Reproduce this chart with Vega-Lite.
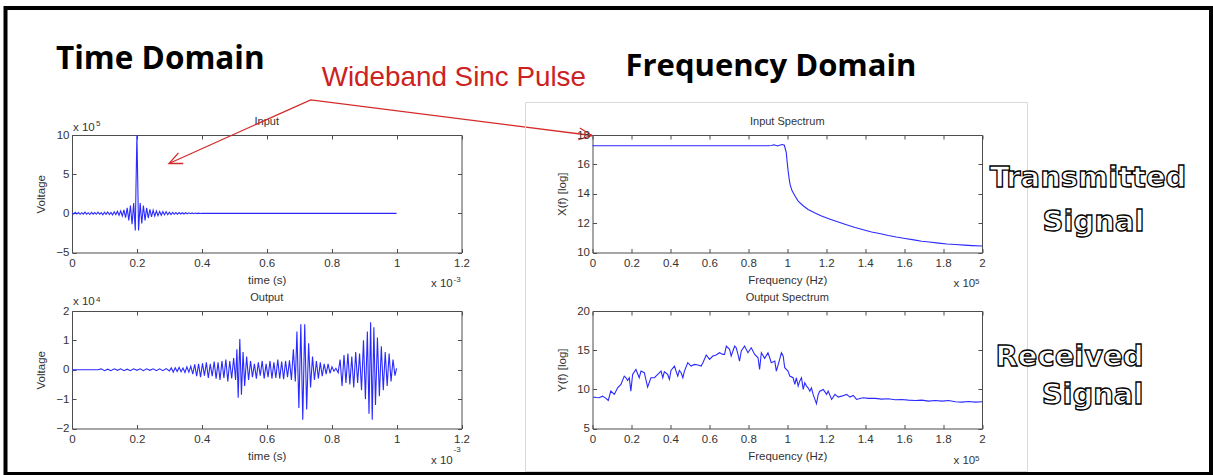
{
"$schema": "https://vega.github.io/schema/vega-lite/v6.json",
"background": "white",
"padding": {"left": 3, "top": 5, "right": 0, "bottom": 0},
"autosize": {"type": "pad"},
"config": {
 "font": "Liberation Sans",
 "view": {"stroke": "#4d4d4d", "strokeWidth": 1},
 "axis": {"grid": false, "domain": false, "tickSize": -4, "tickColor": "#4d4d4d", "labelFont": "Liberation Sans", "labelFontSize": 11.5, "labelColor": "#333333", "labelFlush": false, "labelOverlap": false, "titleFont": "Liberation Sans", "titleFontSize": 11.5, "titleFontWeight": "normal", "titleColor": "#333333"},
 "axisX": {"labelPadding": 8.5, "titlePadding": 6},
 "axisY": {"labelPadding": 7, "titlePadding": 9}
},
"datasets": {
 "input": [
  {"t":0,"v":0.05},{"t":0.005,"v":-0.1},{"t":0.01,"v":0.12},{"t":0.015,"v":-0.08},{"t":0.02,"v":0.1},{"t":0.025,"v":-0.12},{"t":0.03,"v":0.08},{"t":0.035,"v":-0.1},{"t":0.04,"v":0.15},{"t":0.045,"v":-0.1},{"t":0.05,"v":0.08},{"t":0.055,"v":-0.15},{"t":0.06,"v":0.12},{"t":0.065,"v":-0.1},{"t":0.07,"v":0.1},{"t":0.075,"v":-0.12},{"t":0.08,"v":0.15},{"t":0.085,"v":-0.12},{"t":0.09,"v":0.1},{"t":0.095,"v":-0.18},{"t":0.1,"v":0.15},{"t":0.105,"v":-0.12},{"t":0.11,"v":0.18},{"t":0.115,"v":-0.15},{"t":0.12,"v":0.12},{"t":0.125,"v":-0.2},{"t":0.13,"v":0.2},{"t":0.135,"v":-0.15},{"t":0.14,"v":0.25},{"t":0.145,"v":-0.25},{"t":0.15,"v":0.3},{"t":0.155,"v":-0.35},{"t":0.16,"v":0.45},{"t":0.165,"v":-0.55},{"t":0.17,"v":0.7},{"t":0.175,"v":-0.9},{"t":0.18,"v":1.0},{"t":0.185,"v":-1.4},{"t":0.19,"v":1.3},{"t":0.195,"v":-2.2},{"t":0.197,"v":3},{"t":0.2,"v":10},{"t":0.203,"v":3},{"t":0.205,"v":-2.2},{"t":0.21,"v":1.3},{"t":0.215,"v":-1.3},{"t":0.22,"v":1.0},{"t":0.225,"v":-0.9},{"t":0.23,"v":0.7},{"t":0.235,"v":-0.6},{"t":0.24,"v":0.5},{"t":0.245,"v":-0.45},{"t":0.25,"v":0.4},{"t":0.255,"v":-0.35},{"t":0.26,"v":0.3},{"t":0.265,"v":-0.3},{"t":0.27,"v":0.25},{"t":0.275,"v":-0.25},{"t":0.28,"v":0.22},{"t":0.285,"v":-0.2},{"t":0.29,"v":0.2},{"t":0.295,"v":-0.18},{"t":0.3,"v":0.15},{"t":0.305,"v":-0.15},{"t":0.31,"v":0.12},{"t":0.315,"v":-0.12},{"t":0.32,"v":0.1},{"t":0.325,"v":-0.1},{"t":0.33,"v":0.1},{"t":0.335,"v":-0.08},{"t":0.34,"v":0.08},{"t":0.345,"v":-0.08},{"t":0.35,"v":0.07},{"t":0.355,"v":-0.06},{"t":0.36,"v":0.06},{"t":0.365,"v":-0.05},{"t":0.37,"v":0.05},{"t":0.375,"v":-0.04},{"t":0.38,"v":0.04},{"t":0.385,"v":-0.03},{"t":0.39,"v":0.03},{"t":0.395,"v":-0.02},{"t":0.4,"v":0.02},{"t":0.45,"v":0},{"t":1.0,"v":0}
 ],
 "output": [
  {"t":0,"v":0},{"t":0.08,"v":0},{"t":0.09,"v":0.03},{"t":0.1,"v":-0.03},{"t":0.11,"v":0.02},{"t":0.12,"v":-0.03},{"t":0.13,"v":0.03},{"t":0.14,"v":-0.02},{"t":0.15,"v":0.03},{"t":0.16,"v":-0.03},{"t":0.17,"v":0.02},{"t":0.18,"v":-0.03},{"t":0.19,"v":0.03},{"t":0.2,"v":-0.02},{"t":0.21,"v":0.03},{"t":0.22,"v":-0.03},{"t":0.23,"v":0.03},{"t":0.24,"v":-0.02},{"t":0.25,"v":0.03},{"t":0.26,"v":-0.03},{"t":0.27,"v":0.03},{"t":0.28,"v":-0.03},{"t":0.29,"v":0.04},{"t":0.3,"v":-0.04},
  {"t":0.306,"v":0.06},{"t":0.312,"v":-0.08},{"t":0.318,"v":0.07},{"t":0.324,"v":-0.06},{"t":0.33,"v":0.08},{"t":0.336,"v":-0.07},{"t":0.342,"v":0.06},{"t":0.348,"v":-0.09},{"t":0.354,"v":0.1},{"t":0.36,"v":-0.08},{"t":0.366,"v":0.12},{"t":0.372,"v":-0.15},{"t":0.378,"v":0.18},{"t":0.384,"v":-0.22},{"t":0.39,"v":0.2},{"t":0.396,"v":-0.25},{"t":0.402,"v":0.22},{"t":0.408,"v":-0.2},{"t":0.414,"v":0.25},{"t":0.42,"v":-0.28},{"t":0.426,"v":0.2},{"t":0.432,"v":-0.22},{"t":0.438,"v":0.28},{"t":0.444,"v":-0.3},{"t":0.45,"v":0.25},{"t":0.456,"v":-0.35},{"t":0.462,"v":0.3},{"t":0.468,"v":-0.28},{"t":0.474,"v":0.35},{"t":0.48,"v":-0.4},{"t":0.486,"v":0.3},{"t":0.492,"v":-0.3},{"t":0.498,"v":0.4},{"t":0.504,"v":-0.35},{"t":0.508,"v":0.7},{"t":0.512,"v":-0.95},{"t":0.517,"v":1.05},{"t":0.522,"v":-0.85},{"t":0.527,"v":0.6},{"t":0.532,"v":-0.55},{"t":0.538,"v":0.45},{"t":0.544,"v":-0.35},{"t":0.55,"v":0.3},{"t":0.556,"v":-0.25},{"t":0.562,"v":0.2},{"t":0.568,"v":-0.3},{"t":0.574,"v":0.25},{"t":0.58,"v":-0.2},{"t":0.586,"v":0.3},{"t":0.592,"v":-0.3},{"t":0.598,"v":0.2},{"t":0.604,"v":-0.25},{"t":0.61,"v":0.3},{"t":0.616,"v":-0.3},{"t":0.622,"v":0.25},{"t":0.628,"v":-0.28},{"t":0.634,"v":0.35},{"t":0.64,"v":-0.3},{"t":0.646,"v":0.28},{"t":0.652,"v":-0.32},{"t":0.658,"v":0.3},{"t":0.664,"v":-0.25},{"t":0.67,"v":0.32},{"t":0.676,"v":-0.35},{"t":0.682,"v":0.7},{"t":0.688,"v":-0.4},{"t":0.693,"v":1.3},{"t":0.699,"v":-1.3},{"t":0.705,"v":1.55},{"t":0.711,"v":-1.7},{"t":0.717,"v":1.55},{"t":0.723,"v":-1.35},{"t":0.729,"v":0.9},{"t":0.735,"v":-0.6},{"t":0.741,"v":0.45},{"t":0.747,"v":-0.35},{"t":0.753,"v":0.3},{"t":0.759,"v":-0.3},{"t":0.765,"v":0.25},{"t":0.771,"v":-0.22},{"t":0.777,"v":0.2},{"t":0.783,"v":-0.15},{"t":0.789,"v":0.2},{"t":0.795,"v":-0.12},{"t":0.801,"v":0.1},{"t":0.807,"v":-0.05},{"t":0.813,"v":0.05},{"t":0.82,"v":-0.1},{"t":0.826,"v":0.35},{"t":0.832,"v":-0.55},{"t":0.838,"v":0.5},{"t":0.844,"v":-0.45},{"t":0.85,"v":0.55},{"t":0.856,"v":-0.5},{"t":0.862,"v":0.45},{"t":0.868,"v":-0.6},{"t":0.874,"v":0.6},{"t":0.88,"v":-0.45},{"t":0.886,"v":0.55},{"t":0.892,"v":-0.7},{"t":0.898,"v":1.0},{"t":0.904,"v":-1.0},{"t":0.91,"v":1.3},{"t":0.915,"v":-1.5},{"t":0.92,"v":1.62},{"t":0.925,"v":-1.7},{"t":0.93,"v":1.45},{"t":0.935,"v":-1.2},{"t":0.941,"v":1.1},{"t":0.947,"v":-0.9},{"t":0.953,"v":0.8},{"t":0.959,"v":-0.7},{"t":0.965,"v":0.6},{"t":0.971,"v":-0.55},{"t":0.977,"v":0.55},{"t":0.983,"v":-0.4},{"t":0.989,"v":0.35},{"t":0.995,"v":-0.2},{"t":1.0,"v":0.05}
 ],
 "inspec": [
  {"f":0,"a":17.27},{"f":0.9,"a":17.27},{"f":0.92,"a":17.28},{"f":0.93,"a":17.33},{"f":0.94,"a":17.3},{"f":0.95,"a":17.25},{"f":0.96,"a":17.3},{"f":0.975,"a":17.35},{"f":0.985,"a":17.3},{"f":0.995,"a":16.8},{"f":1.0,"a":16.1},{"f":1.005,"a":15.5},{"f":1.01,"a":15.0},{"f":1.015,"a":14.6},{"f":1.025,"a":14.2},{"f":1.04,"a":13.85},{"f":1.056,"a":13.5},{"f":1.08,"a":13.2},{"f":1.107,"a":12.93},{"f":1.14,"a":12.7},{"f":1.176,"a":12.48},{"f":1.22,"a":12.27},{"f":1.262,"a":12.07},{"f":1.3,"a":11.9},{"f":1.348,"a":11.7},{"f":1.39,"a":11.55},{"f":1.433,"a":11.4},{"f":1.48,"a":11.28},{"f":1.519,"a":11.16},{"f":1.56,"a":11.05},{"f":1.605,"a":10.95},{"f":1.65,"a":10.86},{"f":1.69,"a":10.77},{"f":1.73,"a":10.71},{"f":1.777,"a":10.64},{"f":1.82,"a":10.58},{"f":1.863,"a":10.54},{"f":1.91,"a":10.5},{"f":1.95,"a":10.47},{"f":2.0,"a":10.44}
 ],
 "outspec": [
  {"f":0.005,"a":9.01},{"f":0.02,"a":8.95},{"f":0.034,"a":8.92},{"f":0.052,"a":9.13},{"f":0.069,"a":8.84},{"f":0.081,"a":8.58},{"f":0.094,"a":9.77},{"f":0.112,"a":9.35},{"f":0.129,"a":10.2},{"f":0.146,"a":10.63},{"f":0.163,"a":11.69},{"f":0.172,"a":11.48},{"f":0.18,"a":11.14},{"f":0.189,"a":11.48},{"f":0.197,"a":9.77},{"f":0.206,"a":11.9},{"f":0.223,"a":12.54},{"f":0.24,"a":11.48},{"f":0.249,"a":12.33},{"f":0.266,"a":12.12},{"f":0.283,"a":10.29},{"f":0.3,"a":11.48},{"f":0.318,"a":11.48},{"f":0.335,"a":11.9},{"f":0.352,"a":12.33},{"f":0.361,"a":11.48},{"f":0.369,"a":12.25},{"f":0.386,"a":11.9},{"f":0.395,"a":11.27},{"f":0.403,"a":12.42},{"f":0.421,"a":12.97},{"f":0.429,"a":12.33},{"f":0.438,"a":11.69},{"f":0.446,"a":12.42},{"f":0.455,"a":12.12},{"f":0.464,"a":11.48},{"f":0.472,"a":12.33},{"f":0.489,"a":13.4},{"f":0.506,"a":12.97},{"f":0.524,"a":13.18},{"f":0.541,"a":13.1},{"f":0.558,"a":12.97},{"f":0.567,"a":13.4},{"f":0.584,"a":14.38},{"f":0.601,"a":13.82},{"f":0.618,"a":14.25},{"f":0.635,"a":14.38},{"f":0.652,"a":14.67},{"f":0.67,"a":14.46},{"f":0.678,"a":14.46},{"f":0.687,"a":15.53},{"f":0.704,"a":15.1},{"f":0.712,"a":14.25},{"f":0.73,"a":15.53},{"f":0.738,"a":15.31},{"f":0.747,"a":14.46},{"f":0.755,"a":13.61},{"f":0.764,"a":14.89},{"f":0.781,"a":15.53},{"f":0.798,"a":14.67},{"f":0.815,"a":15.31},{"f":0.833,"a":14.46},{"f":0.85,"a":14.03},{"f":0.858,"a":12.54},{"f":0.867,"a":14.67},{"f":0.884,"a":13.95},{"f":0.901,"a":14.67},{"f":0.91,"a":14.03},{"f":0.918,"a":13.4},{"f":0.936,"a":13.61},{"f":0.944,"a":12.33},{"f":0.961,"a":13.82},{"f":0.97,"a":14.67},{"f":0.979,"a":14.25},{"f":0.987,"a":12.76},{"f":1.004,"a":12.33},{"f":1.013,"a":11.69},{"f":1.03,"a":11.48},{"f":1.039,"a":10.63},{"f":1.047,"a":11.48},{"f":1.056,"a":10.41},{"f":1.064,"a":11.05},{"f":1.073,"a":11.48},{"f":1.082,"a":9.99},{"f":1.09,"a":10.84},{"f":1.099,"a":10.41},{"f":1.107,"a":10.2},{"f":1.116,"a":9.77},{"f":1.124,"a":10.2},{"f":1.133,"a":9.35},{"f":1.142,"a":8.71},{"f":1.15,"a":8.16},{"f":1.159,"a":9.35},{"f":1.167,"a":9.77},{"f":1.185,"a":9.99},{"f":1.202,"a":9.35},{"f":1.21,"a":9.77},{"f":1.228,"a":8.71},{"f":1.245,"a":9.35},{"f":1.262,"a":9.01},{"f":1.279,"a":9.13},{"f":1.305,"a":9.35},{"f":1.322,"a":9.01},{"f":1.339,"a":9.22},{"f":1.356,"a":8.71},{"f":1.373,"a":8.84},{"f":1.391,"a":8.92},{"f":1.416,"a":8.84},{"f":1.451,"a":8.84},{"f":1.485,"a":8.75},{"f":1.519,"a":8.79},{"f":1.554,"a":8.67},{"f":1.588,"a":8.71},{"f":1.622,"a":8.62},{"f":1.657,"a":8.58},{"f":1.691,"a":8.62},{"f":1.725,"a":8.5},{"f":1.76,"a":8.58},{"f":1.794,"a":8.5},{"f":1.828,"a":8.58},{"f":1.863,"a":8.41},{"f":1.897,"a":8.37},{"f":1.931,"a":8.45},{"f":1.966,"a":8.37},{"f":2.0,"a":8.41}
 ]
},
"columns": 2,
"spacing": {"row": 58, "column": 130.5},
"bounds": "flush",
"concat": [
 {
  "width": 389.5, "height": 117.5,
  "resolve": {"axis": {"x": "independent", "y": "independent"}},
  "layer": [
   {"data": {"name": "input"}, "mark": {"type": "line", "color": "#2a2aff", "strokeWidth": 1.1},
    "encoding": {
     "x": {"field": "t", "type": "quantitative", "scale": {"domain": [0, 1.2], "nice": false, "zero": false}, "axis": {"values": [0, 0.2, 0.4, 0.6, 0.8, 1, 1.2], "format": "~g", "title": "time (s)"}},
     "y": {"field": "v", "type": "quantitative", "scale": {"domain": [-5, 10], "nice": false, "zero": false}, "axis": {"values": [-5, 0, 5, 10], "title": "Voltage"}}}},
   {"data": {"name": "input"}, "mark": {"type": "line", "opacity": 0},
    "encoding": {
     "x": {"field": "t", "type": "quantitative", "axis": {"orient": "top", "values": [0, 0.2, 0.4, 0.6, 0.8, 1, 1.2], "labels": false, "title": null}},
     "y": {"field": "v", "type": "quantitative", "axis": {"orient": "right", "values": [-5, 0, 5, 10], "labels": false, "title": null}}}},
   {"data": {"values": [{"x": 0.6, "y": 11.213, "s": "Input"}]},
    "mark": {"type": "text", "font": "Liberation Sans", "fontSize": 11, "align": "center", "baseline": "alphabetic", "color": "#333333", "clip": false},
    "encoding": {"x": {"field": "x", "type": "quantitative", "axis": null}, "y": {"field": "y", "type": "quantitative", "axis": null}, "text": {"field": "s"}}},
   {"data": {"values": [{"x": -0.0493, "y": 18.362, "s": "Time Domain"}]},
    "mark": {"type": "text", "font": "Open Sans", "fontWeight": "bold", "fontSize": 31.5, "align": "left", "baseline": "alphabetic", "color": "#000000", "clip": false},
    "encoding": {"x": {"field": "x", "type": "quantitative", "axis": null}, "y": {"field": "y", "type": "quantitative", "axis": null}, "text": {"field": "s"}}},
   {"data": {"values": [{"x": 0.7693, "y": 16.23, "s": "Wideband Sinc Pulse"}]},
    "mark": {"type": "text", "font": "Liberation Sans", "fontSize": 27.8, "align": "left", "baseline": "alphabetic", "color": "#cc2222", "clip": false},
    "encoding": {"x": {"field": "x", "type": "quantitative", "axis": null}, "y": {"field": "y", "type": "quantitative", "axis": null}, "text": {"field": "s"}}},
   {"data": {"values": [{"x": 0.0031, "y": 10.51, "s": "x 10"}, {"x": 1.106, "y": -9.341, "s": "x 10"}]},
    "mark": {"type": "text", "font": "Liberation Sans", "fontSize": 11.5, "align": "left", "baseline": "alphabetic", "color": "#333333", "clip": false},
    "encoding": {"x": {"field": "x", "type": "quantitative", "axis": null}, "y": {"field": "y", "type": "quantitative", "axis": null}, "text": {"field": "s"}}},
   {"data": {"values": [{"x": 0.0739, "y": 11.149, "s": "5"}, {"x": 1.1754, "y": -8.703, "s": "-3"}]},
    "mark": {"type": "text", "font": "Liberation Sans", "fontSize": 8, "align": "left", "baseline": "alphabetic", "color": "#333333", "clip": false},
    "encoding": {"x": {"field": "x", "type": "quantitative", "axis": null}, "y": {"field": "y", "type": "quantitative", "axis": null}, "text": {"field": "s"}}},
   {"data": {"values": [{"x": 0.2988, "y": 6.362, "o": 0}, {"x": 0.7354, "y": 14.494, "o": 1}, {"x": 1.6021, "y": 9.936, "o": 2}]},
    "mark": {"type": "line", "color": "#d42a2a", "strokeWidth": 1.3, "clip": false},
    "encoding": {"x": {"field": "x", "type": "quantitative", "axis": null}, "y": {"field": "y", "type": "quantitative", "axis": null}, "order": {"field": "o"}}},
   {"data": {"values": [{"x": 0.2988, "y": 6.362}]},
    "mark": {"type": "point", "shape": "M-1,-0.45L0,0L-1,0.45", "size": 676, "angle": 155.8, "filled": false, "color": "#d42a2a", "strokeWidth": 1.3, "opacity": 1, "clip": false},
    "encoding": {"x": {"field": "x", "type": "quantitative", "axis": null}, "y": {"field": "y", "type": "quantitative", "axis": null}}},
   {"data": {"values": [{"x": 1.6021, "y": 9.936}]},
    "mark": {"type": "point", "shape": "M-1,-0.45L0,0L-1,0.45", "size": 676, "angle": 7.2, "filled": false, "color": "#d42a2a", "strokeWidth": 1.3, "opacity": 1, "clip": false},
    "encoding": {"x": {"field": "x", "type": "quantitative", "axis": null}, "y": {"field": "y", "type": "quantitative", "axis": null}}}
  ]
 },
 {
  "width": 389.5, "height": 117.5,
  "resolve": {"axis": {"x": "independent", "y": "independent"}},
  "layer": [
   {"data": {"values": [{"x1": -0.344, "x2": 2.2336, "y1": 20.213, "y2": -4.91}]},
    "mark": {"type": "rect", "filled": false, "color": "#d9d9d9", "strokeWidth": 1, "clip": false},
    "encoding": {"x": {"field": "x1", "type": "quantitative", "axis": null, "scale": {"domain": [0, 2], "nice": false, "zero": false}}, "x2": {"field": "x2"}, "y": {"field": "y1", "type": "quantitative", "axis": null, "scale": {"domain": [10, 18], "nice": false, "zero": false}}, "y2": {"field": "y2"}}},
   {"data": {"name": "inspec"}, "mark": {"type": "line", "color": "#2a2aff", "strokeWidth": 1.1},
    "encoding": {
     "x": {"field": "f", "type": "quantitative", "scale": {"domain": [0, 2], "nice": false, "zero": false}, "axis": {"values": [0, 0.2, 0.4, 0.6, 0.8, 1, 1.2, 1.4, 1.6, 1.8, 2], "format": "~g", "title": "Frequency (Hz)"}},
     "y": {"field": "a", "type": "quantitative", "scale": {"domain": [10, 18], "nice": false, "zero": false}, "axis": {"values": [10, 12, 14, 16, 18], "title": "X(f) [log]"}}}},
   {"data": {"name": "inspec"}, "mark": {"type": "line", "opacity": 0},
    "encoding": {
     "x": {"field": "f", "type": "quantitative", "axis": {"orient": "top", "values": [0, 0.2, 0.4, 0.6, 0.8, 1, 1.2, 1.4, 1.6, 1.8, 2], "labels": false, "title": null}},
     "y": {"field": "a", "type": "quantitative", "axis": {"orient": "right", "values": [10, 12, 14, 16, 18], "labels": false, "title": null}}}},
   {"data": {"values": [{"x": 1.0, "y": 18.647, "s": "Input Spectrum"}]},
    "mark": {"type": "text", "font": "Liberation Sans", "fontSize": 11, "align": "center", "baseline": "alphabetic", "color": "#333333", "clip": false},
    "encoding": {"x": {"field": "x", "type": "quantitative", "axis": null}, "y": {"field": "y", "type": "quantitative", "axis": null}, "text": {"field": "s"}}},
   {"data": {"values": [{"x": 0.1694, "y": 22.051, "s": "Frequency Domain"}]},
    "mark": {"type": "text", "font": "Open Sans", "fontWeight": "bold", "fontSize": 31, "align": "left", "baseline": "alphabetic", "color": "#000000", "clip": false},
    "encoding": {"x": {"field": "x", "type": "quantitative", "axis": null}, "y": {"field": "y", "type": "quantitative", "axis": null}, "text": {"field": "s"}}},
   {"data": {"values": [{"x": 2.5443, "y": 14.426, "s": "Transmitted"}, {"x": 2.5725, "y": 11.43, "s": "Signal"}]},
    "mark": {"type": "text", "font": "DejaVu Sans", "fontWeight": "bold", "fontSize": 29, "align": "center", "baseline": "alphabetic", "fill": "#ffffff", "stroke": "#000000", "strokeWidth": 1.3, "clip": false},
    "encoding": {"x": {"field": "x", "type": "quantitative", "axis": null}, "y": {"field": "y", "type": "quantitative", "axis": null}, "text": {"field": "s"}}},
   {"data": {"values": [{"x": 1.8537, "y": 7.637, "s": "x 10"}]},
    "mark": {"type": "text", "font": "Liberation Sans", "fontSize": 11.5, "align": "left", "baseline": "alphabetic", "color": "#333333", "clip": false},
    "encoding": {"x": {"field": "x", "type": "quantitative", "axis": null}, "y": {"field": "y", "type": "quantitative", "axis": null}, "text": {"field": "s"}}},
   {"data": {"values": [{"x": 1.964, "y": 7.889, "s": "5"}]},
    "mark": {"type": "text", "font": "Liberation Sans", "fontSize": 8, "align": "left", "baseline": "alphabetic", "color": "#333333", "clip": false},
    "encoding": {"x": {"field": "x", "type": "quantitative", "axis": null}, "y": {"field": "y", "type": "quantitative", "axis": null}, "text": {"field": "s"}}}
  ]
 },
 {
  "width": 389.5, "height": 117.5,
  "resolve": {"axis": {"x": "independent", "y": "independent"}},
  "layer": [
   {"data": {"name": "output"}, "mark": {"type": "line", "color": "#2a2aff", "strokeWidth": 1.1},
    "encoding": {
     "x": {"field": "t", "type": "quantitative", "scale": {"domain": [0, 1.2], "nice": false, "zero": false}, "axis": {"values": [0, 0.2, 0.4, 0.6, 0.8, 1, 1.2], "format": "~g", "title": "time (s)"}},
     "y": {"field": "v", "type": "quantitative", "scale": {"domain": [-2, 2], "nice": false, "zero": false}, "axis": {"values": [-2, -1, 0, 1, 2], "title": "Voltage"}}}},
   {"data": {"name": "output"}, "mark": {"type": "line", "opacity": 0},
    "encoding": {
     "x": {"field": "t", "type": "quantitative", "axis": {"orient": "top", "values": [0, 0.2, 0.4, 0.6, 0.8, 1, 1.2], "labels": false, "title": null}},
     "y": {"field": "v", "type": "quantitative", "axis": {"orient": "right", "values": [-2, -1, 0, 1, 2], "labels": false, "title": null}}}},
   {"data": {"values": [{"x": 0.6, "y": 2.34, "s": "Output"}]},
    "mark": {"type": "text", "font": "Liberation Sans", "fontSize": 11, "align": "center", "baseline": "alphabetic", "color": "#333333", "clip": false},
    "encoding": {"x": {"field": "x", "type": "quantitative", "axis": null}, "y": {"field": "y", "type": "quantitative", "axis": null}, "text": {"field": "s"}}},
   {"data": {"values": [{"x": 0.0031, "y": 2.204, "s": "x 10"}, {"x": 1.106, "y": -3.198, "s": "x 10"}]},
    "mark": {"type": "text", "font": "Liberation Sans", "fontSize": 11.5, "align": "left", "baseline": "alphabetic", "color": "#333333", "clip": false},
    "encoding": {"x": {"field": "x", "type": "quantitative", "axis": null}, "y": {"field": "y", "type": "quantitative", "axis": null}, "text": {"field": "s"}}},
   {"data": {"values": [{"x": 0.0739, "y": 2.323, "s": "4"}, {"x": 1.1754, "y": -2.817, "s": "-3"}]},
    "mark": {"type": "text", "font": "Liberation Sans", "fontSize": 8, "align": "left", "baseline": "alphabetic", "color": "#333333", "clip": false},
    "encoding": {"x": {"field": "x", "type": "quantitative", "axis": null}, "y": {"field": "y", "type": "quantitative", "axis": null}, "text": {"field": "s"}}}
  ]
 },
 {
  "width": 389.5, "height": 117.5,
  "resolve": {"axis": {"x": "independent", "y": "independent"}},
  "layer": [
   {"data": {"name": "outspec"}, "mark": {"type": "line", "color": "#2a2aff", "strokeWidth": 1.1},
    "encoding": {
     "x": {"field": "f", "type": "quantitative", "scale": {"domain": [0, 2], "nice": false, "zero": false}, "axis": {"values": [0, 0.2, 0.4, 0.6, 0.8, 1, 1.2, 1.4, 1.6, 1.8, 2], "format": "~g", "title": "Frequency (Hz)"}},
     "y": {"field": "a", "type": "quantitative", "scale": {"domain": [5, 20], "nice": false, "zero": false}, "axis": {"values": [5, 10, 15, 20], "title": "Y(f) [log]"}}}},
   {"data": {"name": "outspec"}, "mark": {"type": "line", "opacity": 0},
    "encoding": {
     "x": {"field": "f", "type": "quantitative", "axis": {"orient": "top", "values": [0, 0.2, 0.4, 0.6, 0.8, 1, 1.2, 1.4, 1.6, 1.8, 2], "labels": false, "title": null}},
     "y": {"field": "a", "type": "quantitative", "axis": {"orient": "right", "values": [5, 10, 15, 20], "labels": false, "title": null}}}},
   {"data": {"values": [{"x": 1.0, "y": 21.277, "s": "Output Spectrum"}]},
    "mark": {"type": "text", "font": "Liberation Sans", "fontSize": 11, "align": "center", "baseline": "alphabetic", "color": "#333333", "clip": false},
    "encoding": {"x": {"field": "x", "type": "quantitative", "axis": null}, "y": {"field": "y", "type": "quantitative", "axis": null}, "text": {"field": "s"}}},
   {"data": {"values": [{"x": 2.4493, "y": 12.979, "s": "Received"}, {"x": 2.5674, "y": 8.127, "s": "Signal"}]},
    "mark": {"type": "text", "font": "DejaVu Sans", "fontWeight": "bold", "fontSize": 29, "align": "center", "baseline": "alphabetic", "fill": "#ffffff", "stroke": "#000000", "strokeWidth": 1.3, "clip": false},
    "encoding": {"x": {"field": "x", "type": "quantitative", "axis": null}, "y": {"field": "y", "type": "quantitative", "axis": null}, "text": {"field": "s"}}},
   {"data": {"values": [{"x": 1.8537, "y": 0.429, "s": "x 10"}]},
    "mark": {"type": "text", "font": "Liberation Sans", "fontSize": 11.5, "align": "left", "baseline": "alphabetic", "color": "#333333", "clip": false},
    "encoding": {"x": {"field": "x", "type": "quantitative", "axis": null}, "y": {"field": "y", "type": "quantitative", "axis": null}, "text": {"field": "s"}}},
   {"data": {"values": [{"x": 1.964, "y": 0.85, "s": "5"}]},
    "mark": {"type": "text", "font": "Liberation Sans", "fontSize": 8, "align": "left", "baseline": "alphabetic", "color": "#333333", "clip": false},
    "encoding": {"x": {"field": "x", "type": "quantitative", "axis": null}, "y": {"field": "y", "type": "quantitative", "axis": null}, "text": {"field": "s"}}},
   {"data": {"values": [{"x1": -3.0141, "x2": 3.1759, "y1": 58.68, "y2": -0.809}]},
    "mark": {"type": "rect", "filled": false, "color": "#000000", "strokeWidth": 4, "clip": false},
    "encoding": {"x": {"field": "x1", "type": "quantitative", "axis": null}, "x2": {"field": "x2"}, "y": {"field": "y1", "type": "quantitative", "axis": null}, "y2": {"field": "y2"}}}
  ]
 }
]
}
